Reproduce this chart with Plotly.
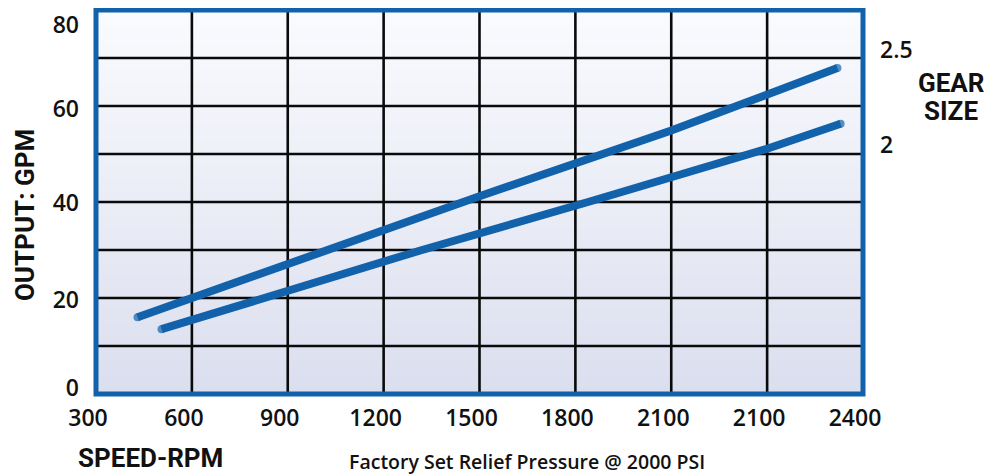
import plotly.graph_objects as go

# ---------------- data ----------------
x_tick_values = [300, 600, 900, 1200, 1500, 1800, 2100, 2400, 2700]
x_tick_labels = ["300", "600", "900", "1200", "1500", "1800", "2100", "2100", "2400"]
y_tick_values = [0, 20, 40, 60, 80]
y_tick_labels = ["0", "20", "40", "60", "80"]
y_grid_values = [10, 20, 30, 40, 50, 60, 70]

gear_25_rpm = [430, 900, 1500, 2100, 2620]
gear_25_gpm = [16.0, 27.2, 41.2, 54.9, 67.9]
gear_2_rpm = [505, 1315, 1845, 2400, 2630]
gear_2_gpm = [13.5, 29.9, 40.1, 51.1, 56.3]

gear_labels = ["2.5", "2"]
gear_label_y = [71.9, 52.1]

# ---------------- styling ----------------
BLUE = "#1262ab"
TICK_FONT = dict(family="Open Sans, sans-serif", size=23, color="#111111", weight=600)
TITLE_FONT = dict(family="Roboto, sans-serif", size=26, color="#111111", weight="bold")
y_label_nudge = [1.35, -0.5, -0.2, -0.6, -3.2]

X0, X1 = 300, 2700
Y0, Y1 = 0, 80

fig = go.Figure()

# gradient background
fig.add_trace(go.Heatmap(
    x=[X0, X1], y=[Y0, Y1], z=[[0, 0], [1, 1]],
    zsmooth="best", showscale=False, hoverinfo="skip",
    colorscale=[[0, "#dbdeee"], [1, "#fafbfe"]],
))

# grid lines drawn above the gradient
gx, gy = [], []
for v in x_tick_values[1:-1]:
    gx += [v, v, None]
    gy += [Y0, Y1, None]
for v in y_grid_values:
    gx += [X0, X1, None]
    gy += [v, v, None]
fig.add_trace(go.Scatter(x=gx, y=gy, mode="lines",
                         line=dict(color="#0a0a0a", width=2.6),
                         hoverinfo="skip", showlegend=False))

for xs, ys in [(gear_25_rpm, gear_25_gpm), (gear_2_rpm, gear_2_gpm)]:
    sizes = [8] + [0] * (len(xs) - 2) + [8]
    fig.add_trace(go.Scatter(
        x=xs, y=ys, mode="lines+markers",
        line=dict(color=BLUE, width=8),
        marker=dict(color=BLUE, size=sizes, line=dict(width=0)),
        showlegend=False, hoverinfo="skip",
    ))

# the page body adds an 8px offset, so the figure is 8px smaller and margins shifted
fig.update_layout(
    width=990, height=467,
    margin=dict(l=88, r=135, t=2, b=81),
    paper_bgcolor="white",
    plot_bgcolor="white",
    showlegend=False,
    xaxis=dict(range=[X0, X1], showgrid=False, zeroline=False, showline=False,
               tickvals=x_tick_values, ticktext=x_tick_labels, ticks="",
               tickfont=TICK_FONT, ticklabelshift=-8, ticklabelstandoff=8,
               ticklabeloverflow="allow", automargin=False, fixedrange=True),
    yaxis=dict(range=[Y0, Y1], showgrid=False, zeroline=False, showline=False,
               tickvals=[v + n for v, n in zip(y_tick_values, y_label_nudge)],
               ticktext=y_tick_labels, ticks="",
               tickfont=TICK_FONT, ticklabelstandoff=16,
               ticklabeloverflow="allow", automargin=False, fixedrange=True),
)

# blue frame
fig.add_shape(type="rect", xref="paper", yref="paper", x0=0, x1=1, y0=0, y1=1,
              line=dict(color=BLUE, width=5), layer="above")

# gear size labels
for t, yv in zip(gear_labels, gear_label_y):
    fig.add_annotation(text=t, xref="paper", yref="y", x=1, y=yv,
                       xanchor="left", yanchor="middle", xshift=15,
                       showarrow=False, font=TICK_FONT)
for t, yp in [("GEAR", 0.810), ("SIZE", 0.738)]:
    fig.add_annotation(text=t, xref="paper", yref="paper", x=1, y=yp,
                       xanchor="center", yanchor="middle", xshift=88,
                       showarrow=False, font=TITLE_FONT)

# axis titles
fig.add_annotation(text="OUTPUT: GPM", xref="paper", yref="paper", x=0, y=0.466,
                   xanchor="center", yanchor="middle", xshift=-71, textangle=-90,
                   showarrow=False, font=TITLE_FONT)
fig.add_annotation(text="SPEED-RPM", xref="paper", yref="paper", x=0, y=0,
                   xanchor="left", yanchor="middle", xshift=-20, yshift=-64,
                   showarrow=False, font=TITLE_FONT)
fig.add_annotation(text="Factory Set Relief Pressure @ 2000 PSI", xref="paper", yref="paper",
                   x=0, y=0, xanchor="center", yanchor="middle", xshift=431, yshift=-67,
                   showarrow=False,
                   font=dict(family="Open Sans, sans-serif", size=19.5, color="#111111", weight=600))

fig.write_html("out.html")
